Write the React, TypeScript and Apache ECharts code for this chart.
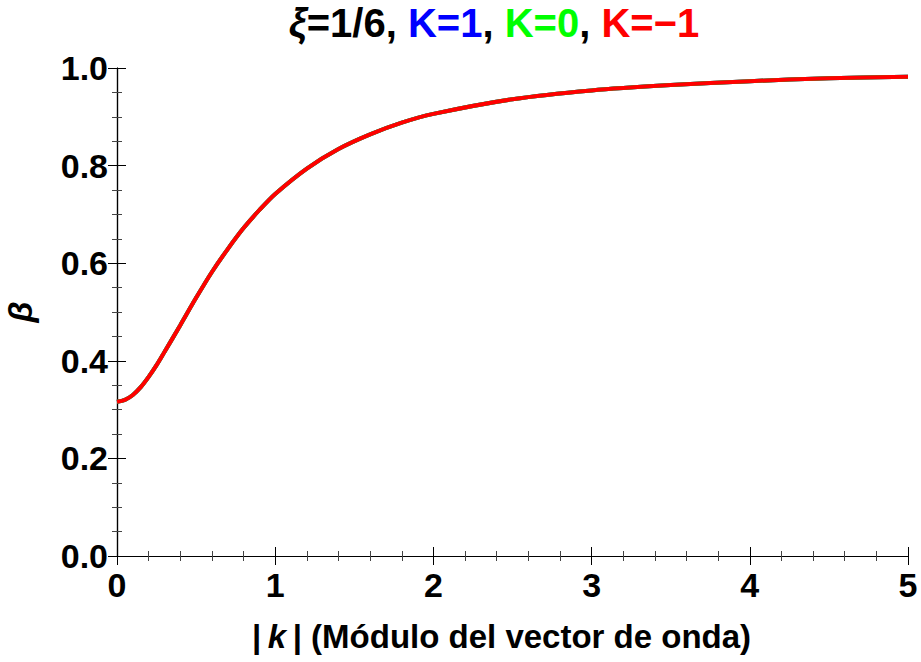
import React, { useEffect, useRef } from "react";
import * as echarts from "echarts";

const kValues = [0, 0.05, 0.1, 0.15, 0.2, 0.25, 0.3, 0.4, 0.5, 0.6, 0.7, 0.8, 0.9, 1.0, 1.2, 1.4, 1.6, 1.8, 2.0, 2.5, 3.0, 3.5, 4.0, 4.5, 5.0];
const betaK1 = [0.316, 0.320, 0.330, 0.346, 0.367, 0.391, 0.418, 0.473, 0.529, 0.582, 0.629, 0.672, 0.709, 0.742, 0.794, 0.834, 0.864, 0.888, 0.906, 0.936, 0.954, 0.965, 0.973, 0.979, 0.982];
const betaK0 = [0.316, 0.320, 0.330, 0.346, 0.367, 0.391, 0.418, 0.473, 0.529, 0.582, 0.629, 0.672, 0.709, 0.742, 0.794, 0.834, 0.864, 0.888, 0.906, 0.936, 0.954, 0.965, 0.973, 0.979, 0.982];
const betaKm1 = [0.316, 0.320, 0.330, 0.346, 0.367, 0.391, 0.418, 0.473, 0.529, 0.582, 0.629, 0.672, 0.709, 0.742, 0.794, 0.834, 0.864, 0.888, 0.906, 0.936, 0.954, 0.965, 0.973, 0.979, 0.982];

const FONT = "'Liberation Sans', Arial, sans-serif";

export default function App() {
  const ref = useRef<HTMLDivElement>(null);
  useEffect(() => {
    if (!ref.current) return;
    const chart = echarts.init(ref.current, null, { renderer: "svg" });
    const toPairs = (ys: number[]) => kValues.map((k, i) => [k, ys[i]]);
    const axisCommon = {
      axisLine: { show: true, lineStyle: { color: "#000", width: 1.2 } },
      axisTick: { show: true, inside: true, length: 9, lineStyle: { color: "#000", width: 1 } },
      minorTick: { show: true, length: 5, lineStyle: { color: "#444", width: 1 } },
      splitLine: { show: false },
    };
    const base = { fontFamily: FONT, fontWeight: "bold" as const, color: "#000" };
    const tickStyle = { ...base, fontSize: 34 };
    const titleStyle = { ...base, fontSize: 40 };
    const nameStyle = { ...base, fontSize: 33 };
    chart.setOption({
      animation: false,
      backgroundColor: "#fff",
      title: {
        left: 489,
        textAlign: "center",
        top: -2,
        text: "{x|ξ}{b|=1/6, }{bl|K=1}{b|, }{gr|K=0}{b|, }{rd|K=−1}",
        textStyle: {
          rich: {
            x: { ...titleStyle, fontStyle: "italic" },
            b: { ...titleStyle },
            bl: { ...titleStyle, color: "#0000ff" },
            gr: { ...titleStyle, color: "#00ff00" },
            rd: { ...titleStyle, color: "#ff0000" },
          },
        },
      },
      grid: { left: 117, right: 13, top: 68, bottom: 106, containLabel: false, outerBoundsMode: "none" },
      xAxis: [
        {
          type: "value",
          min: 0,
          max: 5,
          interval: 1,
          ...axisCommon,
          minorTick: { ...axisCommon.minorTick, splitNumber: 5 },
          axisLabel: { ...tickStyle, margin: 12 },
          name: "{n||\u2009}{i|k}{n|\u2009| (Módulo del vector de onda)}",
          nameLocation: "middle",
          nameGap: 64,
          nameTextStyle: {
            padding: [0, 22, 0, 0],
            rich: {
              n: { ...nameStyle },
              i: { ...nameStyle, fontStyle: "italic" },
            },
          },
        },
        {
          type: "value",
          position: "top",
          min: 0,
          max: 5,
          interval: 1,
          ...axisCommon,
          minorTick: { ...axisCommon.minorTick, splitNumber: 5 },
          axisLabel: { show: false },
        },
      ],
      yAxis: [
        {
          type: "value",
          min: 0,
          max: 1,
          interval: 0.2,
          ...axisCommon,
          minorTick: { ...axisCommon.minorTick, splitNumber: 4 },
          axisLabel: { ...tickStyle, margin: 9, formatter: (v: number) => v.toFixed(1) },
          name: "β",
          nameLocation: "middle",
          nameRotate: 90,
          nameGap: 80,
          nameTextStyle: { ...tickStyle, fontStyle: "italic", lineHeight: 34 },
        },
        {
          type: "value",
          position: "right",
          min: 0,
          max: 1,
          interval: 0.2,
          ...axisCommon,
          minorTick: { ...axisCommon.minorTick, splitNumber: 4 },
          axisLabel: { show: false },
        },
      ],
      series: [
        { name: "K=1", type: "line", data: toPairs(betaK1), smooth: 0.3, showSymbol: false, lineStyle: { color: "#0000ff", width: 4 }, z: 2 },
        { name: "K=0", type: "line", data: toPairs(betaK0), smooth: 0.3, showSymbol: false, lineStyle: { color: "#00ff00", width: 4 }, z: 3 },
        { name: "K=-1", type: "line", data: toPairs(betaKm1), smooth: 0.3, showSymbol: false, lineStyle: { color: "#ff0000", width: 4 }, z: 4 },
      ],
    });
    return () => chart.dispose();
  }, []);
  return <div ref={ref} style={{ width: 921, height: 662, position: "absolute", left: 0, top: 0 }} />;
}
